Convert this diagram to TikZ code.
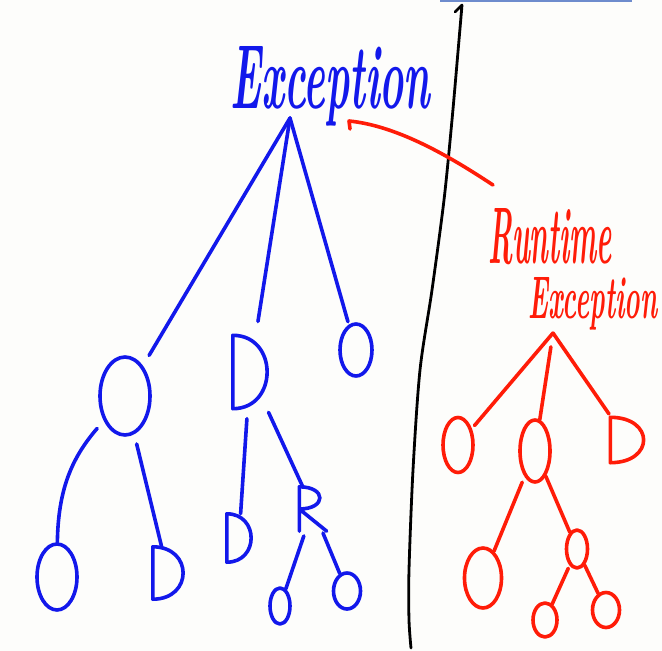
\documentclass[tikz,border=0pt]{standalone}
\usetikzlibrary{shapes.geometric,calc}
\definecolor{inkblue}{RGB}{18,24,235}
\definecolor{inkred}{RGB}{255,28,8}
\definecolor{topline}{RGB}{110,140,205}
\definecolor{paper}{RGB}{253,253,251}
\tikzset{
  pen/.style={line width=3.6pt, line cap=round, line join=round},
  bpen/.style={pen, draw=inkblue},
  rpen/.style={pen, draw=inkred},
  oval/.style 2 args={ellipse, pen, inner sep=0pt, minimum width=#1, minimum height=#2},
  dbox/.style 2 args={rectangle, draw=none, inner sep=0pt, minimum width=#1, minimum height=#2},
  btxt/.style={inner sep=0pt, text=inkblue, font=\bfseries\itshape},
  rtxt/.style={inner sep=0pt, text=inkred, font=\bfseries\itshape},
}
\newcommand{\dshape}[2]{\draw[#1] (#2.north west) -- (#2.south west) .. controls ($(#2.south west)!1.33!(#2.south east)$) and ($(#2.north west)!1.33!(#2.north east)$) .. cycle;}
\begin{document}
\begin{tikzpicture}[x=1pt,y=-1pt]
\useasboundingbox (0,0) rectangle (662,651);
\fill[paper] (0,0) rectangle (662,651);
\draw[line width=1.6pt, topline] (440,0.8) -- (632,0.8);
% divider
\draw[pen, line width=2.8pt, black] (455,12) -- (462,5)
  plot[smooth] coordinates {(462,5) (459,40) (452,120) (444,200) (432,290) (420,370) (413,470) (409,570) (409,620) (411,648)};
% titles
\node[btxt, anchor=base west] (exc) at (230,108) {\resizebox{200pt}{62pt}{Exception}};
\node[rtxt, anchor=base west] (rt1) at (488,263) {\resizebox{124pt}{55pt}{Runtime}};
\node[rtxt, anchor=base west] (rt2) at (528,318) {\resizebox{129pt}{41pt}{Exception}};
% red arrow
\coordinate (arrS) at (493,185);
\coordinate (arrE) at (349,121);
\draw[rpen] (arrS) .. controls (455,160) and (400,126) .. (arrE) -- ++(1,8);
% blue tree
\coordinate (bA) at (290,118);
\node[oval={50pt}{78pt}, draw=inkblue] (b1) at (125,396) {};
\node[dbox={34pt}{73pt}] (b2) at (250,372) {};
\node[oval={32pt}{52pt}, draw=inkblue] (b3) at (356,350) {};
\node[oval={40pt}{66pt}, draw=inkblue] (b4) at (57,577) {};
\node[dbox={30pt}{52pt}] (b5) at (168,573) {};
\node[dbox={24pt}{48pt}] (b6) at (239,538) {};
\node[dbox={27pt}{44pt}] (b7) at (313,509) {};
\node[oval={20pt}{36pt}, draw=inkblue] (b8) at (280,606) {};
\node[oval={27pt}{36pt}, draw=inkblue] (b9) at (347,591) {};
\dshape{bpen}{b2}
\dshape{bpen}{b5}
\dshape{bpen}{b6}
\draw[bpen] (b7.south west) -- (b7.north west) .. controls (b7.north east) and (b7.east) .. (b7.west) -- (b7.south east);
\draw[bpen, shorten >=12pt] (bA) -- (b1);
\draw[bpen, shorten >=14pt] (bA) -- (b2);
\draw[bpen, shorten >=3pt] (bA) -- (b3);
\draw[bpen, shorten <=10pt] (b1) to[bend right=20] (b4);
\draw[bpen, shorten <=10pt] (b1) -- (b5);
\draw[bpen, shorten <=10pt] (b2) -- (b6);
\draw[bpen, shorten <=4pt] (b2) -- (b7);
\draw[bpen, shorten <=5pt] (b7) -- (b8);
\draw[bpen, shorten <=2pt] (b7) -- (b9);
% red tree
\coordinate (rA) at (553,333);
\node[oval={30pt}{55pt}, draw=inkred] (r1) at (458,445) {};
\node[oval={30pt}{62pt}, draw=inkred] (r2) at (535,451) {};
\node[dbox={33pt}{45pt}] (r3) at (627,440) {};
\node[oval={37pt}{60pt}, draw=inkred] (r4) at (483,578) {};
\node[oval={21pt}{38pt}, draw=inkred] (r5) at (577,549) {};
\node[oval={24pt}{34pt}, draw=inkred] (r6) at (545,620) {};
\node[oval={27pt}{35pt}, draw=inkred] (r7) at (606,610) {};
\dshape{rpen}{r3}
\draw[rpen, shorten >=4pt] (rA) -- (r1);
\draw[rpen, shorten <=14pt] (rA) -- (r2);
\draw[rpen, shorten >=4pt] (rA) -- (r3);
\draw[rpen, shorten <=6pt] (r2) -- (r4);
\draw[rpen] (r2) -- (r5);
\draw[rpen, shorten <=3pt] (r5) -- (r6);
\draw[rpen] (r5) -- (r7);
\end{tikzpicture}
\end{document}
